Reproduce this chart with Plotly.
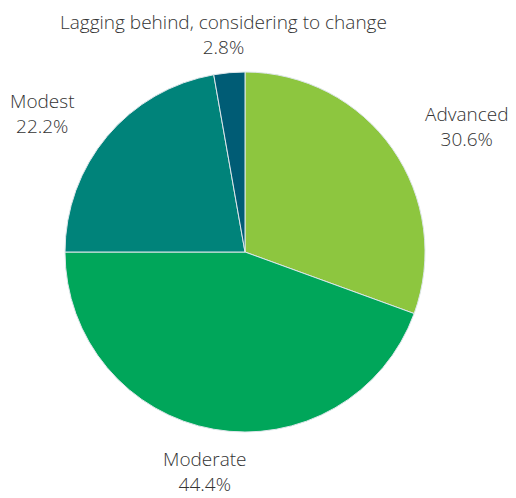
import plotly.graph_objects as go

labels = ["Advanced", "Moderate", "Modest", "Lagging behind, considering to change"]
counts = [11, 16, 8, 1]
colors = ["#8DC63F", "#00A65A", "#00837A", "#005C75"]

# label positions (paper coords) for the outside labels
label_x = [1.118, 0.39, -0.063, 0.44]
label_y = [0.85, -0.11, 0.885, 1.105]

total = sum(counts)

fig = go.Figure(
    go.Pie(
        labels=labels,
        values=counts,
        sort=False,
        direction="clockwise",
        rotation=0,
        marker=dict(colors=colors, line=dict(color="#DDE6EA", width=1)),
        textinfo="none",
        showlegend=False,
        hoverinfo="label+percent",
    )
)

for name, n, x, y in zip(labels, counts, label_x, label_y):
    fig.add_annotation(
        x=x,
        y=y,
        xref="paper",
        yref="paper",
        text=f"{name}<br>{n / total * 100:.1f}%",
        showarrow=False,
        xanchor="center",
        yanchor="middle",
        align="center",
        font=dict(family="Open Sans", size=19, color="#333333", weight=300),
    )

# page body has an 8px margin, so the figure is 8px smaller on each side
fig.update_layout(
    width=508,
    height=490,
    margin=dict(l=57, r=91, t=64, b=66),
    paper_bgcolor="white",
    plot_bgcolor="white",
)
fig.write_html("out.html")
